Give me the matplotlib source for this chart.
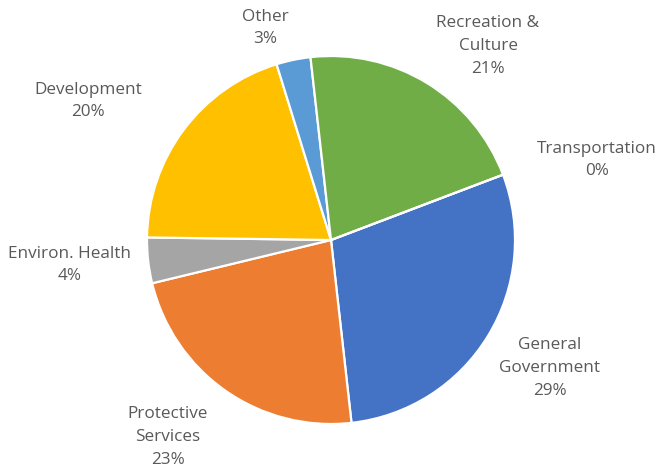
import matplotlib
matplotlib.use("Agg")
import matplotlib.pyplot as plt
import numpy as np

# Expenditure share by function (percent)
categories = ["General\nGovernment", "Protective\nServices", "Environ. Health",
              "Development", "Other", "Recreation &\nCulture", "Transportation"]
shares = [29, 23, 4, 20, 3, 21, 0]
colors = ["#4472C4", "#ED7D31", "#A5A5A5", "#FFC000", "#5B9BD5", "#70AD47", "#264478"]

# label centres in pixel coordinates (x from left, y from top)
label_px = [(550, 368), (168, 437), (70, 265), (88, 101), (265, 28), (488, 46), (597, 160)]

W, H, DPI = 657, 470, 100
cx, cy, R = 331, 240, 184

fig = plt.figure(figsize=(W / DPI, H / DPI), dpi=DPI)
ax = fig.add_axes([0, 0, 1, 1])

ax.pie(shares, colors=colors, startangle=20.8, counterclock=False, radius=1.0,
       wedgeprops=dict(edgecolor="white", linewidth=1.6))

ax.set_aspect("auto")
ax.set_xlim(-cx / R, (W - cx) / R)
ax.set_ylim(-(H - cy) / R, cy / R)
ax.axis("off")

for name, val, (px, py) in zip(categories, shares, label_px):
    x = (px - cx) / R
    y = (cy - py) / R
    ax.text(x, y, f"{name}\n{val}%", ha="center", va="center", color="#595959",
            fontsize=12.3, family="Open Sans", linespacing=1.55)

fig.savefig("out.png", dpi=DPI)
